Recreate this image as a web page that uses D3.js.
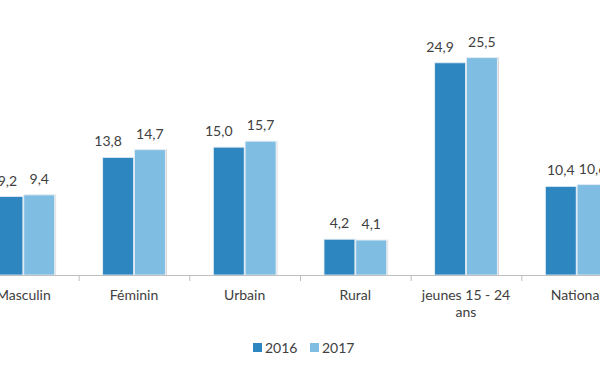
<!DOCTYPE html>
<html lang="fr">
<head>
    <meta charset="UTF-8">
    <title>Taux par catégorie 2016-2017</title>
    <script src="https://cdn.jsdelivr.net/npm/d3@7/dist/d3.min.js"></script>
    <style>
        body { margin: 0; background: #ffffff; }
        svg { display: block; font-family: Lato, "Open Sans", sans-serif; }
    </style>
</head>
<body>
<svg id="mainsvg" width="600" height="372"></svg>
<script>
    // Data
    const categories = ['Masculin', 'Féminin', 'Urbain', 'Rural', 'jeunes 15 - 24 ans', 'National'];
    const years = ['2016', '2017'];
    const values2016 = [9.2, 13.8, 15.0, 4.2, 24.9, 10.4];
    const values2017 = [9.4, 14.7, 15.7, 4.1, 25.5, 10.6];
    const colors = ['#2e86c1', '#80bde3'];

    const svg = d3.select('#mainsvg');
    const baseline = 275;

    // soft shadow under the bars
    svg.append('defs').append('filter')
        .attr('id', 'shadow')
        .attr('x', '-10%').attr('y', '-10%')
        .attr('width', '130%').attr('height', '130%')
        .append('feDropShadow')
        .attr('dx', 1).attr('dy', 0)
        .attr('stdDeviation', 0.6)
        .attr('flood-color', '#000')
        .attr('flood-opacity', 0.18);

    // the picture is a crop: the first and last groups run past the edges
    const xScale = d3.scaleBand()
        .domain(categories)
        .range([-32, 632]);

    const xInner = d3.scaleBand()
        .domain(years)
        .range([24, xScale.bandwidth() - 24])
        .paddingInner(0.03);

    const yScale = d3.scaleLinear()
        .domain([0, 25.5])
        .range([baseline, 57.7]);

    const rows = categories.map((c, i) => ({cat: c, vals: [values2016[i], values2017[i]]}));

    // Bars
    const groups = svg.selectAll('g.grp')
        .data(rows)
        .join('g')
        .attr('class', 'grp')
        .attr('transform', d => `translate(${xScale(d.cat)},0)`);

    groups.selectAll('rect')
        .data(d => d.vals.map((v, j) => ({year: years[j], v: v, j: j})))
        .join('rect')
        .attr('x', d => xInner(d.year))
        .attr('y', d => yScale(d.v))
        .attr('width', xInner.bandwidth())
        .attr('height', d => baseline - yScale(d.v))
        .attr('fill', d => colors[d.j])
        .attr('stroke', '#e8f1f7')
        .attr('stroke-width', 0.8)
        .attr('filter', 'url(#shadow)');

    // first-series labels slide left when the second bar sits clearly higher
    groups.selectAll('text.val')
        .data(d => d.vals.map((v, j) => ({
            year: years[j], v: v,
            dx: (j === 0 && d.vals[1] - d.vals[0] >= 0.5) ? -10 : 0
        })))
        .join('text')
        .attr('class', 'val')
        .attr('x', d => xInner(d.year) + xInner.bandwidth() / 2 + d.dx)
        .attr('y', d => yScale(d.v) - 11)
        .attr('text-anchor', 'middle')
        .attr('font-size', 14)
        .attr('fill', '#404040')
        .text(d => d.v.toFixed(1).replace('.', ','));

    // Axis
    const xAxis = svg.append('g')
        .attr('transform', `translate(0,${baseline})`)
        .call(d3.axisBottom(xScale).tickSize(0).tickFormat(''));
    xAxis.select('.domain').attr('stroke', '#bfbfbf');

    svg.append('g').selectAll('line')
        .data(categories.slice(1))
        .join('line')
        .attr('x1', d => xScale(d) + 0.5)
        .attr('x2', d => xScale(d) + 0.5)
        .attr('y1', baseline)
        .attr('y2', baseline + 6)
        .attr('stroke', '#bfbfbf');

    // Category labels (wrapped like the original)
    const labelLines = {'jeunes 15 - 24 ans': ['jeunes 15 - 24', 'ans']};
    svg.append('g').selectAll('text')
        .data(categories)
        .join('text')
        .attr('x', d => xScale(d) + xScale.bandwidth() / 2)
        .attr('y', 300)
        .attr('text-anchor', 'middle')
        .attr('font-size', 14)
        .attr('fill', '#404040')
        .each(function (d) {
            const lines = labelLines[d] || [d];
            d3.select(this).selectAll('tspan')
                .data(lines)
                .join('tspan')
                .attr('x', xScale(d) + xScale.bandwidth() / 2)
                .attr('dy', (l, k) => k === 0 ? 0 : 17)
                .text(l => l);
        });

    // Legend
    const legend = svg.append('g').attr('transform', 'translate(253,343)');
    const item = legend.selectAll('g')
        .data(years)
        .join('g')
        .attr('transform', (d, i) => `translate(${i * 57},0)`);
    item.append('rect')
        .attr('width', 9)
        .attr('height', 9)
        .attr('fill', (d, i) => colors[i]);
    item.append('text')
        .attr('x', 12)
        .attr('y', 9.5)
        .attr('font-size', 14)
        .attr('fill', '#404040')
        .text(d => d);
</script>
</body>
</html>
